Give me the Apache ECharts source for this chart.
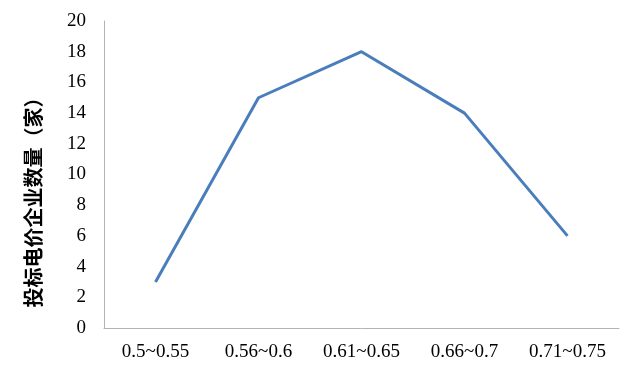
<!DOCTYPE html>
<html><head><meta charset="utf-8">
<script src="https://cdn.jsdelivr.net/npm/echarts@6/dist/echarts.min.js"></script>
<style>html,body{margin:0;padding:0;background:#fff}#c{width:631px;height:380px}</style>
</head><body><div id="c"></div>
<script>
const categories = ['0.5~0.55', '0.56~0.6', '0.61~0.65', '0.66~0.7', '0.71~0.75'];
const counts = [3, 15, 18, 14, 6];
const yAxisName = '投标电价企业数量（家）';

const chart = echarts.init(document.getElementById('c'));
chart.setOption({
  animation: false,
  grid: { left: 104, right: 12, top: 21, bottom: 52 },
  xAxis: {
    type: 'category', data: categories, boundaryGap: true,
    axisLine: { lineStyle: { color: '#b3b3b3', width: 1 } },
    axisTick: { show: false },
    axisLabel: { color: '#000', fontFamily: 'Liberation Serif', fontSize: 19, margin: 15 }
  },
  yAxis: {
    type: 'value', min: 0, max: 20, interval: 2,
    name: yAxisName, nameLocation: 'middle', nameGap: 61, nameRotate: 90,
    nameTextStyle: { color: '#000', fontFamily: 'Noto Sans CJK SC', fontWeight: 'bold', fontSize: 20, padding: [0, 46, 0, 0] },
    axisLine: { show: true, lineStyle: { color: '#b3b3b3', width: 1 } },
    axisTick: { show: false },
    splitLine: { show: false },
    axisLabel: { color: '#000', fontFamily: 'Liberation Serif', fontSize: 19, margin: 18 }
  },
  series: [{
    type: 'line', data: counts, symbol: 'none',
    lineStyle: { color: '#4a7ebb', width: 3 }
  }]
});
</script></body></html>
